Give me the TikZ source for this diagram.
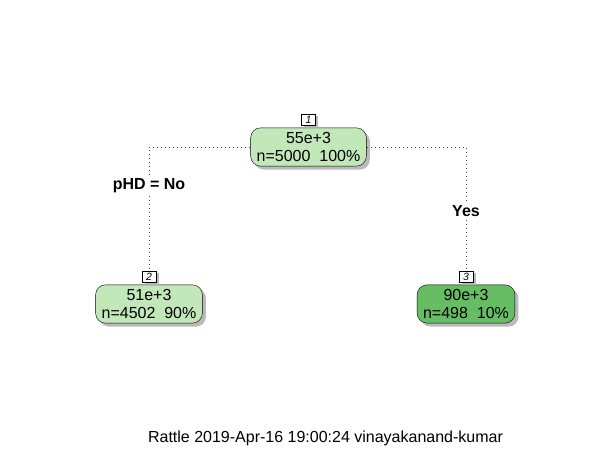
\documentclass[tikz,border=0pt]{standalone}
\usepackage{fontspec}
\setmainfont{Liberation Sans}
\usetikzlibrary{shadows,positioning}

\definecolor{lightgreen}{HTML}{C2E7B9}
\definecolor{darkgreen}{HTML}{66BD63}

\tikzset{
  leaf/.style={draw=black, rounded corners=10pt, align=center,
    inner xsep=6pt, inner ysep=4.5pt, font=\fontsize{16}{18}\selectfont,
    drop shadow={shadow xshift=3.5pt, shadow yshift=-3.5pt, fill=gray!60, opacity=0.9}},
  numbox/.style={draw=black, fill=white, inner sep=0.5pt, minimum width=14pt,
    minimum height=11.5pt, font=\fontsize{10.5}{11}\selectfont\itshape,
    drop shadow={shadow xshift=2.5pt, shadow yshift=-2.5pt, fill=gray!60, opacity=0.9}},
  split/.style={font=\fontsize{16}{18}\selectfont\bfseries, inner sep=3pt},
  link/.style={gray!60!black, dash pattern=on 1pt off 3pt}
}

\begin{document}
\begin{tikzpicture}[x=1pt,y=-1pt]

\useasboundingbox (0,0) rectangle (613,449);

% tree nodes
\node[leaf, fill=lightgreen] (root) at (308.5,147) {55e+3\\n=5000\ \ 100\%};
\node[leaf, fill=lightgreen] (left) at (149,304) {51e+3\\n=4502\ \ 90\%};
\node[leaf, fill=darkgreen] (right) at (466,304) {90e+3\\n=498\ \ 10\%};

% node numbers
\node[numbox, above=2pt of root] (num1) {1};
\node[numbox, above=2pt of left] (num2) {2};
\node[numbox, above=2pt of right] (num3) {3};

% split labels
\node[split] (nolab) at (149,186) {pHD = No};
\node[split] (yeslab) at (466,211) {Yes};

\draw[link] (root.west) -| (nolab.north);
\draw[link] (nolab.south) -- (num2.north);
\draw[link] (root.east) -| (yeslab.north);
\draw[link] (yeslab.south) -- (num3.north);

\node[font=\fontsize{16}{18}\selectfont] (stamp) at (325.5,438) {Rattle 2019-Apr-16 19:00:24 vinayakanand-kumar};

\end{tikzpicture}
\end{document}
